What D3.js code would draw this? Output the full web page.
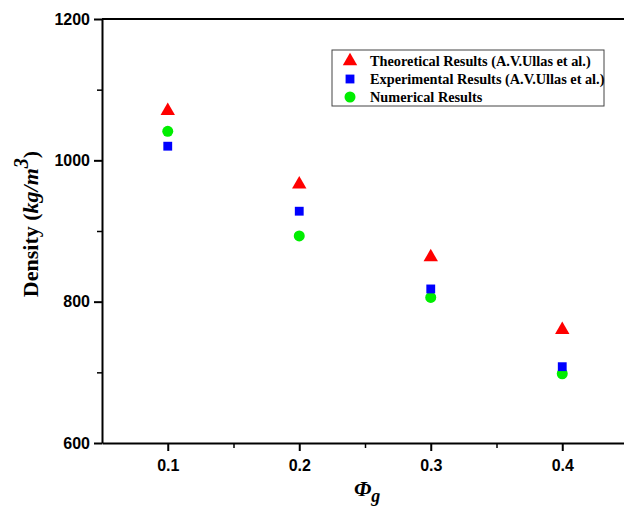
<!DOCTYPE html>
<html>
<head>
<meta charset="utf-8">
<script src="https://cdn.jsdelivr.net/npm/d3@7"></script>
<style>
  body { margin: 0; background: #fff; }
</style>
</head>
<body>
<div id="chart"></div>
<script>
var svgWidth = 624;
var svgHeight = 511;

var margin = { top: 19, right: -4, bottom: 68, left: 102 };
var width = svgWidth - margin.left - margin.right;
var height = svgHeight - margin.top - margin.bottom;

// data
var phi = [0.1, 0.2, 0.3, 0.4];
var theoretical = [1070, 966, 863, 760];
var experimental = [1020, 928, 818, 708];
var numerical = [1041, 893, 806, 698];
var xTicks = [0.1, 0.2, 0.3, 0.4];
var yTicks = [600, 800, 1000, 1200];
var seriesNames = [
  "Theoretical Results (A.V.Ullas et al.)",
  "Experimental Results (A.V.Ullas et al.)",
  "Numerical Results"
];

var svg = d3.select("#chart")
  .append("svg")
  .attr("width", svgWidth)
  .attr("height", svgHeight);

var chartGroup = svg.append("g")
  .attr("transform", `translate(${margin.left}, ${margin.top})`);

var xScale = d3.scaleLinear().domain([0.05, 0.45]).range([0, width]);
var yScale = d3.scaleLinear().domain([600, 1200]).range([height, 0]);

// minor ticks
chartGroup.append("g")
  .attr("transform", `translate(0, ${height})`)
  .call(d3.axisBottom(xScale).tickValues([0.15, 0.25, 0.35]).tickSize(5).tickSizeOuter(0).tickFormat(""))
  .call(g => g.select(".domain").remove())
  .selectAll("line").attr("stroke-width", 1.5);
chartGroup.append("g")
  .call(d3.axisLeft(yScale).tickValues([700, 900, 1100]).tickSize(5).tickSizeOuter(0).tickFormat(""))
  .call(g => g.select(".domain").remove())
  .selectAll("line").attr("stroke-width", 1.5);

var bottomAxis = d3.axisBottom(xScale).tickValues(xTicks).tickSize(8).tickSizeOuter(0).tickPadding(9).tickFormat(d3.format(".1f"));
var leftAxis = d3.axisLeft(yScale).tickValues(yTicks).tickSize(8).tickSizeOuter(0).tickPadding(4).tickFormat(d3.format("d"));

var xAxisG = chartGroup.append("g")
  .attr("transform", `translate(0, ${height})`)
  .call(bottomAxis);
var yAxisG = chartGroup.append("g").call(leftAxis);
[xAxisG, yAxisG].forEach(function(g) {
  g.attr("font-family", null).attr("font-size", null);
  g.select(".domain").attr("stroke-width", 2);
  g.selectAll(".tick line").attr("stroke-width", 2);
  g.selectAll(".tick text")
    .attr("fill", "#000")
    .style("font-family", "'Liberation Sans', Arial, sans-serif")
    .style("font-weight", "bold")
    .style("font-size", "16px");
});

// top frame line
chartGroup.append("line")
  .attr("x1", 0).attr("x2", width).attr("y1", 0).attr("y2", 0)
  .attr("stroke", "#000").attr("stroke-width", 2);

var sym = {
  tri: d3.symbol().type(d3.symbolTriangle).size(90),
  sq: d3.symbol().type(d3.symbolSquare).size(78),
  circ: d3.symbol().type(d3.symbolCircle).size(95)
};

function drawSeries(values, shape, color) {
  chartGroup.append("g")
    .selectAll("path")
    .data(values)
    .enter()
    .append("path")
    .attr("d", shape)
    .attr("fill", color)
    .attr("transform", function(d, i) { return `translate(${xScale(phi[i])}, ${yScale(d)})`; });
}
drawSeries(theoretical, sym.tri, "#ff0000");
drawSeries(numerical, sym.circ, "#00ee00");
drawSeries(experimental, sym.sq, "#0000ff");

// legend
var legend = svg.append("g").attr("transform", "translate(332, 50)");
legend.append("rect")
  .attr("width", 272).attr("height", 56)
  .attr("fill", "#fff").attr("stroke", "#444").attr("stroke-width", 1);
var legShapes = [[sym.tri, "#ff0000"], [sym.sq, "#0000ff"], [sym.circ, "#00ee00"]];
seriesNames.forEach(function(name, i) {
  var y = 11 + i * 18;
  legend.append("path")
    .attr("d", legShapes[i][0])
    .attr("fill", legShapes[i][1])
    .attr("transform", `translate(18, ${y})`);
  legend.append("text")
    .attr("x", 38).attr("y", y + 5)
    .style("font-family", "'Liberation Serif', 'Times New Roman', serif")
    .style("font-weight", "bold")
    .style("font-size", "14.3px")
    .text(name);
});

// y axis title
var yTitle = svg.append("text")
  .attr("transform", "translate(38, 224) rotate(-90)")
  .attr("text-anchor", "middle")
  .style("font-family", "'Liberation Serif', 'Times New Roman', serif")
  .style("font-weight", "bold")
  .style("font-size", "22px");
yTitle.append("tspan").text("Density ");
yTitle.append("tspan").text("(");
yTitle.append("tspan").style("font-style", "italic").text("kg/m");
yTitle.append("tspan").style("font-style", "italic").attr("dy", -10).style("font-size", "20px").text("3");
yTitle.append("tspan").attr("dy", 10).text(")");

// x axis title
var xTitle = svg.append("text")
  .attr("x", 354).attr("y", 496)
  .style("font-family", "'Liberation Serif', 'Times New Roman', serif")
  .style("font-weight", "bold")
  .style("font-style", "italic")
  .style("font-size", "22px");
xTitle.append("tspan").text("Φ");
xTitle.append("tspan").attr("dy", 6).style("font-size", "18px").text("g");
</script>
</body>
</html>
